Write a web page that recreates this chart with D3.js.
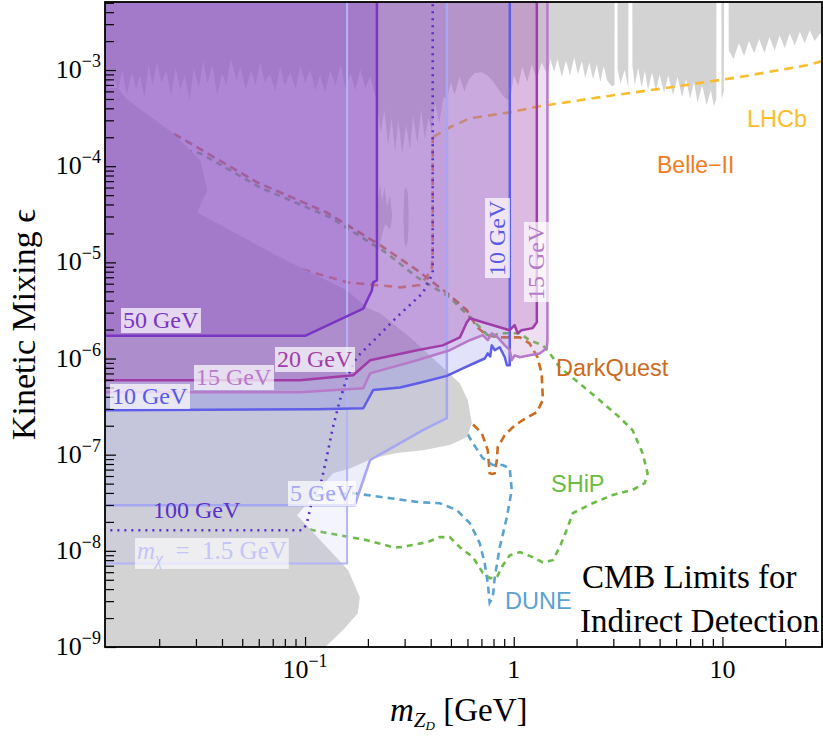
<!DOCTYPE html>
<html>
<head>
<meta charset="utf-8">
<script src="https://d3js.org/d3.v7.min.js"></script>
<style>body{margin:0;background:#fff}</style>
</head>
<body>
<svg width="823" height="738"></svg>
<script>
// ---- data (dark photon mass in GeV, kinetic mixing) ----
var TOP = 1e-2;

// existing constraints, upper region (noisy lower edge, gaps at J/psi, psi', Upsilon)
var grayTopEdge = [
  [0.01,5.5e-4],[0.011,5.5e-4],[0.0118,8.8e-4],[0.0124,7.4e-4],[0.0127,6.2e-4],[0.0133,9.9e-4],[0.014,5.5e-4],[0.0148,9.5e-4],
  [0.0155,6.4e-4],[0.0162,8.8e-4],[0.017,5.2e-4],[0.0178,1.12e-3],[0.0183,8.2e-4],[0.0186,6.9e-4],[0.0195,1.2e-3],
  [0.0205,7.3e-4],[0.0216,9.9e-4],[0.0228,5.5e-4],[0.024,1.05e-3],[0.0252,6.2e-4],[0.0265,8.8e-4],
  [0.028,4.8e-4],[0.0293,1.05e-3],[0.031,6.5e-4],[0.0325,1.26e-3],[0.034,7.3e-4],[0.036,1.12e-3],
  [0.038,5.5e-4],[0.04,9.3e-4],[0.042,6.9e-4],[0.044,1.3e-3],[0.047,7.8e-4],[0.049,1.08e-3],
  [0.052,6.2e-4],[0.055,9.9e-4],[0.058,7.0e-4],[0.061,1.2e-3],[0.064,7.5e-4],[0.068,9.0e-4],
  [0.072,6.0e-4],[0.076,1.08e-3],[0.08,7.0e-4],[0.085,9.5e-4],[0.09,6.4e-4],[0.095,1.12e-3],
  [0.1,7.3e-4],[0.106,1.0e-3],[0.112,6.2e-4],[0.118,8.8e-4],[0.125,5.8e-4],[0.132,1.0e-3],
  [0.14,6.9e-4],[0.148,1.15e-3],[0.156,6.4e-4],[0.165,9.3e-4],[0.174,6.2e-4],[0.184,1.0e-3],
  [0.195,6.5e-4],[0.205,8.5e-4],[0.215,5.8e-4],[0.221,4.8e-4],[0.23,2.2e-4],[0.24,3.8e-4],
  [0.25,1.6e-4],[0.26,3.2e-4],[0.27,1.4e-4],[0.28,3.0e-4],[0.292,1.35e-4],[0.305,2.7e-4],
  [0.318,1.5e-4],[0.33,3.3e-4],[0.345,1.7e-4],[0.36,3.8e-4],[0.375,1.9e-4],[0.39,3.2e-4],
  [0.405,2.3e-4],[0.42,4.5e-4],[0.44,2.8e-4],[0.46,5.2e-4],[0.48,5.0e-4],[0.5,7.5e-4],
  [0.52,5.5e-4],[0.55,8.5e-4],[0.58,6.0e-4],[0.61,8.0e-4],[0.65,9.3e-4],[0.7,9.5e-4],
  [0.75,8.8e-4],[0.8,7.5e-4],[0.85,6.2e-4],[0.9,5.2e-4],[0.96,4.8e-4],[1.0,8.8e-4],
  [1.05,6.9e-4],[1.1,1.08e-3],[1.16,7.5e-4],[1.22,1.15e-3],[1.29,8.0e-4],[1.36,1.2e-3],
  [1.45,9.0e-4],[1.5,1.3e-3],[1.56,9.5e-4],[1.62,1.3e-3],[1.7,8.5e-4],[1.78,1.25e-3],
  [1.86,8.8e-4],[1.95,1.35e-3],[2.03,9.0e-4],[2.12,1.25e-3],[2.2,8.2e-4],[2.3,1.2e-3],
  [2.4,8.0e-4],[2.5,1.15e-3],[2.6,7.5e-4],[2.7,1.1e-3],[2.8,7.8e-4],[2.95,6.8e-4],
  [3.04,7.0e-4],[3.045,TOP],[3.14,TOP],[3.145,1.0e-3],[3.25,7.3e-4],[3.4,1.0e-3],[3.54,6.5e-4],
  [3.545,TOP],[3.7,TOP],[3.705,1.1e-3],[3.8,7.0e-4],[3.95,1.05e-3],[4.1,6.6e-4],[4.25,9.9e-4],
  [4.4,6.2e-4],[4.6,9.5e-4],[4.8,6.0e-4],[5.0,9.0e-4],[5.25,5.8e-4],[5.5,8.8e-4],[5.8,5.5e-4],
  [6.1,8.5e-4],[6.4,5.2e-4],[6.7,8.0e-4],[7.0,5.0e-4],[7.3,7.5e-4],[7.6,4.6e-4],[8.0,6.9e-4],
  [8.4,4.3e-4],[8.8,6.2e-4],[9.1,4.2e-4],[9.35,5.0e-4],[9.36,TOP],[9.88,TOP],[9.9,5.0e-4],
  [10.15,6.0e-4],[10.2,TOP],[10.7,TOP],[10.72,1.6e-3],[11.3,1.3e-3],[12.0,1.9e-3],[12.7,1.4e-3],
  [13.4,2.0e-3],[14.2,1.5e-3],[15.0,2.1e-3],[15.9,1.5e-3],[16.8,2.2e-3],[17.8,1.6e-3],
  [18.8,2.3e-3],[19.9,1.7e-3],[21.0,2.4e-3],[22.2,1.8e-3],[23.5,2.5e-3],[24.8,1.9e-3],
  [26.2,2.6e-3],[27.7,2.0e-3],[29.3,2.4e-3],[31,2.1e-3]
];

// existing constraints, beam dump / supernova region on the lower left
var grayLowerLeft = [
  [0.01,6.5e-4],[0.0127,6.5e-4],[0.0138,5.1e-4],[0.0233,2.2e-4],[0.0315,1.15e-4],[0.034,5.6e-5],
  [0.0304,3.3e-5],[0.0759,1.13e-5],[0.159,5.1e-6],[0.198,3.4e-6],[0.229,2.96e-6],[0.318,1.66e-6],
  [0.457,8.1e-7],[0.552,5.5e-7],[0.602,3.7e-7],[0.63,2.12e-7],[0.596,1.52e-7],[0.494,1.26e-7],
  [0.367,1.11e-7],[0.275,1.04e-7],[0.212,9.2e-8],[0.164,7.2e-8],[0.136,6.4e-8],[0.0916,2.35e-8],
  [0.161,6.3e-9],[0.183,3.3e-9],[0.179,2.25e-9],[0.152,1.5e-9],[0.125,1e-9],[0.12,5e-10],[0.01,5e-10]
];
var grayBlobs = [
  [[0.222,1.5e-5],[0.224,4.5e-5],[0.229,6.6e-5],[0.234,4.2e-5],[0.24,6.2e-5],[0.247,3.8e-5],
   [0.255,5.0e-5],[0.262,3.0e-5],[0.256,2.2e-5],[0.242,2.5e-5],[0.232,1.8e-5],[0.226,1.3e-5]],
  [[0.299,1.6e-5],[0.296,3.0e-5],[0.299,5.5e-5],[0.305,6.2e-5],[0.311,5.2e-5],[0.314,3.0e-5],
   [0.311,1.7e-5],[0.305,1.4e-5]]
];

// projected sensitivities (dashed)
var lhcb = [[0.409,2.0e-4],[0.494,2.54e-4],[0.616,3.15e-4],[0.957,3.63e-4],[1.33,4.2e-4],
  [2.78,5.34e-4],[5.77,6.65e-4],[12.1,8.46e-4],[25.3,1.12e-3],[31,1.26e-3]];
var belle2 = [[0.061,9.1e-6],[0.1,8.3e-6],[0.159,6.2e-6],[0.221,5.8e-6],[0.285,5.5e-6],
  [0.355,5.8e-6],[0.405,8.3e-6],[0.409,1.34e-5],[0.409,2.0e-4]];
var darkQuest = [[0.018,2.7e-4],[0.0233,2.2e-4],[0.0589,6.8e-5],[0.127,3.3e-5],[0.229,1.51e-5],
  [0.344,8.3e-6],[0.478,4.8e-6],[0.596,3.18e-6],[0.665,2.12e-6],[0.743,1.75e-6],[0.857,1.66e-6],
  [1.07,1.66e-6],[1.19,1.44e-6],[1.30,1.03e-6],[1.36,7.0e-7],[1.38,3.7e-7],[1.29,2.77e-7],
  [1.10,2.28e-7],[0.99,1.93e-7],[0.906,1.6e-7],[0.838,1.2e-7],[0.830,8.8e-8],[0.811,6.4e-8],
  [0.790,6.3e-8],[0.767,6.4e-8],[0.751,1.11e-7],[0.703,1.67e-7],[0.63,2.12e-7],[0.494,3.7e-7]];
var ship = [[0.0239,1.55e-4],[0.0315,1.36e-4],[0.061,6.0e-5],[0.132,2.94e-5],[0.247,1.24e-5],
  [0.344,7.0e-6],[0.494,4.34e-6],[0.616,2.69e-6],[0.687,2.12e-6],[0.767,1.66e-6],[0.857,1.83e-6],
  [1.07,1.83e-6],[1.19,1.55e-6],[1.38,1.37e-6],[1.49,1.13e-6],[1.66,8.1e-7],[2.07,5.5e-7],
  [2.58,3.69e-7],[3.21,2.45e-7],[3.71,1.8e-7],[4.14,1.04e-7],[4.38,6.4e-8],[4.24,5.06e-8],
  [3.71,4.3e-8],[2.98,3.8e-8],[2.39,3.13e-8],[1.92,2.47e-8],[1.79,1.64e-8],[1.66,1.09e-8],
  [1.54,8.0e-9],[1.38,7.6e-9],[1.23,8.6e-9],[1.07,9.7e-9],[0.957,9.0e-9],[0.877,6.8e-9],
  [0.830,5.3e-9],[0.767,5.2e-9],[0.711,5.9e-9],[0.637,8.6e-9],[0.552,1.09e-8],[0.494,1.39e-8],
  [0.442,1.39e-8],[0.384,1.23e-8],[0.329,1.15e-8],[0.285,1.09e-8],[0.264,1.09e-8],[0.198,1.29e-8],
  [0.122,1.56e-8],[0.0848,1.85e-8],[0.0546,2.0e-8]];
var dune = [[0.0759,3.53e-8],[0.170,3.98e-8],[0.355,3.2e-8],[0.442,3.13e-8],[0.534,2.65e-8],
  [0.616,1.94e-8],[0.687,1.2e-8],[0.726,7.4e-9],[0.751,4.6e-9],[0.767,2.9e-9],[0.794,3.3e-9],
  [0.811,5.3e-9],[0.857,1.09e-8],[0.927,2.24e-8],[0.978,4.3e-8],[0.957,7.2e-8],[0.886,7.8e-8],
  [0.794,7.8e-8],[0.711,9.2e-8],[0.637,1.32e-7],[0.616,1.49e-7],[0.552,2.3e-7]];

// CMB limits for indirect detection, one per DM mass
var cmb1p5 = [[0.01,7.4e-9],[0.159,7.4e-9],[0.159,TOP]];
var cmb5 = [[0.01,2.98e-8],[0.173,2.98e-8],[0.205,8.8e-8],[0.264,1.2e-7],[0.367,1.8e-7],
  [0.478,2.4e-7],[0.478,TOP]];
var cmb10 = [[0.01,2.9e-7],[0.114,2.97e-7],[0.19,3.04e-7],[0.212,4.7e-7],[0.285,5.0e-7],
  [0.355,5.6e-7],[0.478,6.6e-7],[0.57,7.9e-7],[0.665,9.2e-7],[0.726,1.0e-6],[0.751,1.13e-6],
  [0.771,1.05e-6],[0.785,1.37e-6],[0.811,1.22e-6],[0.857,1.31e-6],[0.906,1.03e-6],[0.927,8.5e-7],
  [0.957,8.5e-7],[0.957,TOP]];
var cmb15 = [[0.01,4.47e-7],[0.0946,4.47e-7],[0.19,4.9e-7],[0.205,7.0e-7],[0.344,9.6e-7],
  [0.494,1.22e-6],[0.616,1.55e-6],[0.711,1.75e-6],[0.751,1.55e-6],[0.785,1.83e-6],[0.838,1.66e-6],
  [0.906,1.37e-6],[0.957,1.22e-6],[0.978,9.6e-7],[1.01,1.08e-6],[1.07,1.03e-6],[1.19,1.08e-6],
  [1.33,1.13e-6],[1.44,1.28e-6],[1.45,1.55e-6],[1.45,TOP]];
var cmb20 = [[0.01,5.95e-7],[0.0946,5.95e-7],[0.170,6.7e-7],[0.205,9.6e-7],[0.344,1.22e-6],
  [0.457,1.37e-6],[0.552,1.66e-6],[0.596,2.38e-6],[0.616,2.62e-6],[0.711,2.38e-6],[0.957,1.97e-6],
  [1.01,2.22e-6],[1.045,1.83e-6],[1.09,1.97e-6],[1.23,2.07e-6],[1.29,2.38e-6],[1.29,TOP]];
var cmb50 = [[0.01,1.72e-6],[0.1,1.72e-6],[0.19,3.3e-6],[0.209,5.1e-6],[0.212,6.2e-6],
  [0.221,6.5e-6],[0.221,TOP]];
var cmb100 = [[0.01,1.64e-8],[0.0978,1.64e-8],[0.102,1.94e-8],[0.109,3.6e-8],[0.120,5.4e-8],
  [0.127,9.4e-8],[0.136,1.93e-7],[0.147,3.7e-7],[0.159,6.4e-7],[0.177,1.03e-6],[0.221,1.66e-6],
  [0.275,2.69e-6],[0.367,4.8e-6],[0.409,7.7e-6],[0.409,TOP]];

var xTickLabels = [[0.1,"10","−1"],[1,"1",""],[10,"10",""]];
var yTickLabels = [[1e-9,"−9"],[1e-8,"−8"],[1e-7,"−7"],[1e-6,"−6"],[1e-5,"−5"],[1e-4,"−4"],[1e-3,"−3"]];

// ---- drawing ----
var serif = "Liberation Serif, Times New Roman, serif",
    sans = "Liberation Sans, Arial, sans-serif";

var svg = d3.select("svg"),
    margin = {top: 2, right: 1, bottom: 91, left: 105},
    width = +svg.attr("width") - margin.left - margin.right,
    height = +svg.attr("height") - margin.top - margin.bottom;

var x = d3.scaleLog().domain([0.011, 30]).range([0, width]);
var y = d3.scaleLog().domain([1e-9, 5.1e-3]).range([height, 0]);

var g = svg.append("g").attr("transform", "translate(" + margin.left + "," + margin.top + ")");

g.append("clipPath").attr("id", "plot").append("rect")
  .attr("width", width).attr("height", height);

var plot = g.append("g").attr("clip-path", "url(#plot)");
var line = d3.line().x(function(d) { return x(d[0]); }).y(function(d) { return y(d[1]); });
var GRAY = "#d3d3d3";

// upper existing limits
plot.append("path")
  .datum([[0.01, TOP]].concat(grayTopEdge).concat([[31, TOP]]))
  .attr("d", d => line(d) + "Z").attr("fill", GRAY);

// projections
var projections = [
  {data: lhcb, color: "#f9bd2e", dash: "9,6"},
  {data: belle2, color: "#f07c1c", dash: "8,6"},
  {data: darkQuest, color: "#cc6a1e", dash: "8,5"},
  {data: ship, color: "#6bbb45", dash: "6,5"},
  {data: dune, color: "#5aa2d2", dash: "7,5"}
];
plot.selectAll(".proj").data(projections).enter().append("path")
  .attr("class", "proj")
  .attr("d", d => line(d.data))
  .attr("fill", "none").attr("stroke", d => d.color)
  .attr("stroke-width", 2.6).attr("stroke-dasharray", d => d.dash);

// lower-left existing limits
plot.append("path").datum(grayLowerLeft).attr("d", d => line(d) + "Z").attr("fill", GRAY);
plot.selectAll(".blob").data(grayBlobs).enter().append("path")
  .attr("class", "blob").attr("d", d => line(d) + "Z").attr("fill", GRAY);

// CMB regions
var regions = [
  {data: cmb1p5, color: "#b4b4f6", fill: "#b4b4f6", op: 0.15, w: 2},
  {data: cmb5, color: "#a6a6f2", fill: "#a4a4f2", op: 0.2, w: 2.5},
  {data: cmb10, color: "#5e5ee8", fill: "#5c5ce8", op: 0.18, w: 2.5},
  {data: cmb15, color: "#b77ac9", fill: "#b67ac8", op: 0.25, w: 2.5},
  {data: cmb20, color: "#a03ca8", fill: "#a03ca8", op: 0.22, w: 2.5},
  {data: cmb50, color: "#7a35c2", fill: "#7a35c2", op: 0.21, w: 2.5}
];
plot.selectAll(".reg").data(regions).enter().append("path")
  .attr("class", "reg")
  .attr("d", d => line(d.data.concat([[0.01, TOP]])) + "Z")
  .attr("fill", d => d.fill).attr("fill-opacity", d => d.op).attr("stroke", "none");
plot.selectAll(".regline").data(regions).enter().append("path")
  .attr("class", "regline")
  .attr("d", d => line(d.data))
  .attr("fill", "none").attr("stroke", d => d.color).attr("stroke-width", d => d.w)
  .attr("stroke-linejoin", "round");
plot.append("path").attr("d", line(cmb100))
  .attr("fill", "none").attr("stroke", "#5a2fc9").attr("stroke-width", 2.6)
  .attr("stroke-dasharray", "2,5");

// labels on the curves
function label(parts, px, py, color, opt) {
  opt = opt || {};
  var lg = svg.append("g").attr("transform", "translate(" + px + "," + py + ")" + (opt.rotate ? " rotate(-90)" : ""));
  var t = lg.append("text").attr("font-family", opt.font || serif)
    .attr("font-size", opt.size || 24).attr("fill", color);
  parts.forEach(function(p) {
    var s = t.append("tspan").text(p.t);
    if (p.italic) s.attr("font-style", "italic");
    if (p.size) s.attr("font-size", p.size);
    if (p.dy) s.attr("dy", p.dy);
  });
  if (opt.box) {
    var b = t.node().getBBox();
    lg.insert("rect", "text").attr("x", b.x - 2).attr("y", b.y + 1)
      .attr("width", b.width + 4).attr("height", b.height - 1)
      .attr("fill", "#fff").attr("fill-opacity", opt.box);
  }
}
label([{t: "50 GeV"}], 123, 328, "#7a35c2", {box: 0.7});
label([{t: "20 GeV"}], 277, 367, "#a03ca8", {box: 0.7});
label([{t: "15 GeV"}], 196, 385, "#b77ac9", {box: 0.7});
label([{t: "10 GeV"}], 112, 404, "#5a5ae6", {box: 0.7});
label([{t: "5 GeV"}], 290, 501, "#a6a6f4", {box: 0.7});
label([{t: "100 GeV"}], 153, 518, "#5a2fc9");
label([{t: "m", italic: true}, {t: "χ", italic: true, size: 18, dy: 6}, {t: "\u2002=\u20021.5 GeV", dy: -6}],
  137, 559, "#c4c4f8", {box: 0.65, size: 25});
label([{t: "10 GeV"}], 505, 276, "#5a5ae6", {box: 0.7, rotate: true});
label([{t: "15 GeV"}], 544, 300, "#b77ac9", {box: 0.7, rotate: true});

label([{t: "LHCb"}], 747, 127, "#f9bd2e", {font: sans, size: 23.5});
label([{t: "Belle−II"}], 657, 173, "#f07c1c", {font: sans, size: 23});
label([{t: "DarkQuest"}], 556, 376, "#cc6a1e", {font: sans, size: 23.5});
label([{t: "SHiP"}], 551, 492, "#6bbb45", {font: sans, size: 23.5});
label([{t: "DUNE"}], 505, 609, "#5aa2d2", {font: sans, size: 23.5});

label([{t: "CMB Limits for"}], 582, 588, "#000", {size: 33});
label([{t: "Indirect Detection"}], 580, 632, "#000", {size: 33});

// axes
function isMajor(d) { var l = Math.log10(d); return Math.abs(l - Math.round(l)) < 1e-6; }
var gx = g.append("g").attr("transform", "translate(0," + height + ")")
  .call(d3.axisBottom(x).tickValues(x.ticks()).tickSize(-8).tickFormat(""));
gx.select(".domain").remove();
gx.selectAll("line").attr("stroke", "#000").attr("stroke-width", 1.2)
  .attr("y2", d => isMajor(d) ? -10 : -8);
var gy = g.append("g")
  .call(d3.axisLeft(y).tickValues(y.ticks()).tickSize(-9).tickFormat(""));
gy.select(".domain").remove();
gy.selectAll("line").attr("stroke", "#000").attr("stroke-width", 1.2)
  .attr("x2", d => isMajor(d) ? 11 : 9);

g.append("rect").attr("width", width).attr("height", height)
  .attr("fill", "none").attr("stroke", "#000").attr("stroke-width", 1.8);

xTickLabels.forEach(function(d) {
  var t = g.append("text").attr("x", x(d[0])).attr("y", height + 31)
    .attr("text-anchor", "middle").attr("font-family", serif).attr("font-size", 26);
  t.append("tspan").text(d[1]);
  if (d[2]) t.append("tspan").text(d[2]).attr("font-size", 18).attr("dy", -11);
});
yTickLabels.forEach(function(d) {
  var t = g.append("text").attr("x", -4).attr("y", y(d[0]) + 8)
    .attr("text-anchor", "end").attr("font-family", serif).attr("font-size", 26);
  t.append("tspan").text("10");
  t.append("tspan").text(d[1]).attr("font-size", 18).attr("dy", -11);
});

// axis titles
svg.append("text").attr("transform", "translate(35," + (margin.top + height / 2) + ") rotate(-90)")
  .attr("text-anchor", "middle").attr("font-family", serif).attr("font-size", 34)
  .text("Kinetic Mixing ϵ");
var xt = svg.append("text").attr("x", 390).attr("y", 721)
  .attr("font-family", serif).attr("font-size", 33);
xt.append("tspan").text("m").attr("font-style", "italic");
xt.append("tspan").text("Z").attr("font-style", "italic").attr("font-size", 21).attr("dy", 6);
xt.append("tspan").text("D").attr("font-style", "italic").attr("font-size", 13).attr("dy", 3);
xt.append("tspan").text(" [GeV]").attr("dy", -9);
</script>
</body>
</html>
